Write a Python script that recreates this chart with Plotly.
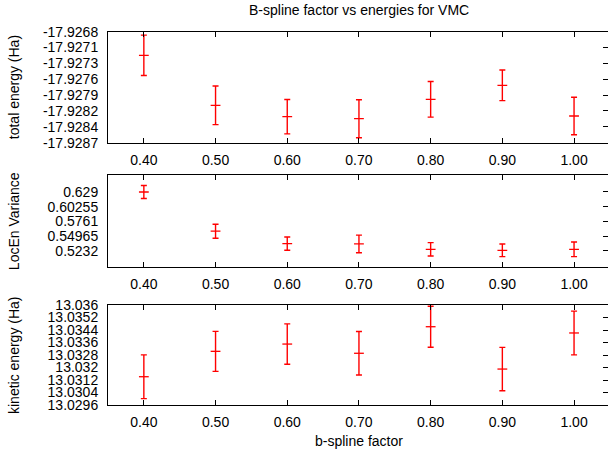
import plotly.graph_objects as go
import numpy as np

# ---- data ----
bspline = [0.40, 0.50, 0.60, 0.70, 0.80, 0.90, 1.00]

etot = [-17.927204, -17.928060, -17.928255, -17.928289, -17.927957, -17.927718, -17.928243]
etot_err = [0.000345, 0.000330, 0.000294, 0.000325, 0.000305, 0.000262, 0.000320]

locvar = [0.6290, 0.5583, 0.5360, 0.5354, 0.5257, 0.5239, 0.5257]
locvar_err = [0.0117, 0.0126, 0.0120, 0.0158, 0.0120, 0.0114, 0.0131]

ekin = [13.03141, 13.033035, 13.03350, 13.03291, 13.03461, 13.03190, 13.03421]
ekin_err = [0.00140, 0.00128, 0.00129, 0.00139, 0.00131, 0.00139, 0.00140]

etot_ticks = ["-17.9268", "-17.9271", "-17.9273", "-17.9276", "-17.9279", "-17.9282", "-17.9284", "-17.9287"]
locvar_ticks = ["0.629", "0.60255", "0.5761", "0.54965", "0.5232"]
ekin_ticks = ["13.036", "13.0352", "13.0344", "13.0336", "13.0328", "13.032", "13.0312", "13.0304", "13.0296"]

etot_range = [-17.9287, -17.9268]
locvar_range = [0.4933, 0.6596]
ekin_range = [13.0296, 13.0360]

etot_tickvals = list(np.linspace(etot_range[1], etot_range[0], len(etot_ticks)))
locvar_tickvals = [0.629, 0.60255, 0.5761, 0.54965, 0.5232]
ekin_tickvals = [13.036, 13.0352, 13.0344, 13.0336, 13.0328, 13.032, 13.0312, 13.0304, 13.0296]

W, H = 608, 451
FONT = "Liberation Sans, Arial, sans-serif"
FS = 14
RED = "#ff0000"

fig = go.Figure()

panels = [
    (etot, etot_err, etot_range, etot_tickvals, etot_ticks, (31.7, 142.7), "total energy (Ha)"),
    (locvar, locvar_err, locvar_range, locvar_tickvals, locvar_ticks, (175.0, 267.3), "LocEn Variance"),
    (ekin, ekin_err, ekin_range, ekin_tickvals, ekin_ticks, (305.0, 405.0), "kinetic energy (Ha)"),
]

layout = dict(
    width=W, height=H,
    margin=dict(l=108, r=0, t=0, b=0, pad=0, autoexpand=False),
    paper_bgcolor="white", plot_bgcolor="white",
    showlegend=False,
    font=dict(family=FONT, size=FS, color="black"),
)
annotations = []

for i, (vals, errs, yr, tv, tt, (ytop, ybot), ytitle) in enumerate(panels):
    n = i + 1
    xa = "x" if n == 1 else f"x{n}"
    ya = "y" if n == 1 else f"y{n}"
    yo = f"y{n + 3}"
    fig.add_trace(go.Scatter(
        x=bspline, y=vals, mode="markers", xaxis=xa, yaxis=ya,
        marker=dict(symbol="line-ew", size=7, color=RED, line=dict(color=RED, width=1.3)),
        error_y=dict(type="data", array=errs, visible=True, color=RED, thickness=1.4, width=3),
        hoverinfo="x+y",
    ))
    # invisible trace on the overlaying axis (right-side ticks)
    fig.add_trace(go.Scatter(
        x=bspline, y=vals, mode="markers", xaxis=xa, yaxis=yo,
        marker=dict(opacity=0), hoverinfo="skip",
    ))
    dom = [1 - ybot / H, 1 - ytop / H]
    xkey = "xaxis" if n == 1 else f"xaxis{n}"
    ykey = "yaxis" if n == 1 else f"yaxis{n}"
    okey = f"yaxis{n + 3}"
    layout[xkey] = dict(
        domain=[0, 1], anchor=ya, range=[0.35, 0.35 + 500 / 717.0],
        tick0=0.4, dtick=0.1, tickformat=".2f", automargin=False,
        showline=True, linecolor="black", linewidth=1, mirror="ticks",
        ticks="inside", ticklen=5, tickcolor="black", tickwidth=1,
        showgrid=False, zeroline=False, ticklabelstandoff=4,
        tickfont=dict(family=FONT, size=FS, color="black"),
    )
    layout[ykey] = dict(
        domain=dom, anchor=xa, range=yr, automargin=False,
        tickmode="array", tickvals=tv, ticktext=tt,
        showline=True, linecolor="black", linewidth=1, mirror=False,
        ticks="", showgrid=False, zeroline=False, ticklabelstandoff=6,
        tickfont=dict(family=FONT, size=FS, color="black"),
    )
    layout[okey] = dict(
        overlaying=ya, side="right", anchor=xa, range=yr, automargin=False,
        tickmode="array", tickvals=tv, showticklabels=False,
        ticks="inside", ticklen=5, tickcolor="black", tickwidth=1,
        showline=False, showgrid=False, zeroline=False,
    )
    annotations.append(dict(
        xref="paper", yref="paper", x=-94 / 500.0, y=1 - (ytop + ybot) / 2 / H,
        text=ytitle, textangle=-90, showarrow=False,
        xanchor="center", yanchor="middle",
        font=dict(family=FONT, size=FS, color="black"),
    ))

annotations.append(dict(
    xref="paper", yref="paper", x=(359 - 108) / 500.0, y=1 - 10 / H,
    text="B-spline factor vs energies for VMC", showarrow=False,
    xanchor="center", yanchor="middle",
    font=dict(family=FONT, size=FS, color="black"),
))
annotations.append(dict(
    xref="paper", yref="paper", x=(359 - 108) / 500.0, y=1 - 441 / H,
    text="b-spline factor", showarrow=False,
    xanchor="center", yanchor="middle",
    font=dict(family=FONT, size=FS, color="black"),
))
layout["annotations"] = annotations

fig.update_layout(**layout)
fig.write_html("out.html")
